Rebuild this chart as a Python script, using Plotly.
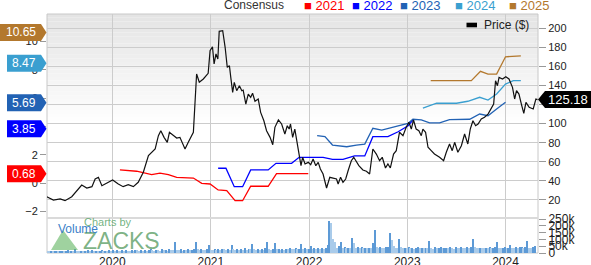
import plotly.graph_objects as go
import pandas as pd

# ---------------- data ----------------
price_dates = ["2019-05-02","2019-05-27","2019-06-21","2019-07-09","2019-08-03","2019-08-22","2019-09-09","2019-09-28","2019-10-17","2019-10-29",
 "2019-11-10","2019-11-23","2019-12-11","2020-01-02","2020-01-23","2020-02-10","2020-02-29","2020-03-19","2020-04-06","2020-04-25",
 "2020-05-14","2020-05-26","2020-06-08","2020-06-20","2020-06-29","2020-07-11","2020-07-23","2020-07-31","2020-08-14","2020-08-27",
 "2020-09-08","2020-09-27","2020-10-09","2020-10-28","2020-11-09","2020-11-19","2020-12-04","2020-12-22","2020-12-29","2021-01-07",
 "2021-01-13","2021-01-20","2021-01-27","2021-02-01","2021-02-14","2021-02-23","2021-03-03","2021-03-11","2021-03-16","2021-03-23",
 "2021-03-29","2021-04-07","2021-04-17","2021-04-26","2021-05-01","2021-05-11","2021-05-20","2021-05-29","2021-06-05","2021-06-14",
 "2021-06-26","2021-07-05","2021-07-17","2021-07-27","2021-08-09","2021-08-19","2021-08-27","2021-09-09","2021-09-21","2021-10-03",
 "2021-10-12","2021-10-19","2021-10-24","2021-11-01","2021-11-09","2021-11-16","2021-11-25","2021-12-02","2021-12-08","2021-12-17",
 "2021-12-29","2022-01-07","2022-01-16","2022-01-26","2022-02-04","2022-02-12","2022-02-22","2022-03-07","2022-03-19","2022-03-31",
 "2022-04-13","2022-04-19","2022-04-28","2022-05-07","2022-05-17","2022-05-26","2022-06-07","2022-06-16","2022-06-23","2022-07-05",
 "2022-07-20","2022-08-02","2022-08-14","2022-08-26","2022-09-08","2022-09-20","2022-09-30","2022-10-12","2022-10-21","2022-10-30",
 "2022-11-11","2022-11-21","2022-12-03","2022-12-16","2022-12-28","2023-01-07","2023-01-16","2023-01-24","2023-02-03","2023-02-13",
 "2023-02-22","2023-02-28","2023-03-10","2023-03-19","2023-03-31","2023-04-12","2023-05-01","2023-05-16","2023-05-26","2023-06-07",
 "2023-06-17","2023-06-26","2023-07-08","2023-07-21","2023-08-02","2023-08-14","2023-08-23","2023-09-02","2023-09-12","2023-09-21",
 "2023-10-03","2023-10-15","2023-10-28","2023-11-09","2023-11-18","2023-11-25","2023-12-02","2023-12-08","2023-12-21","2024-01-02",
 "2024-01-14","2024-01-27","2024-02-04","2024-02-11","2024-02-20","2024-02-29","2024-03-09","2024-03-17","2024-03-29","2024-04-13",
 "2024-04-23","2024-04-29"]
price_values = [23.4,19.9,21,19.2,23.4,29.7,35.6,32.5,33.9,41.9,
 43.7,34.9,37.4,40.9,36.7,33.9,36,33.9,38.5,49,
 66.4,69.9,73.4,87.3,92.6,85.6,80.4,90.9,87.3,84.9,
 85.6,73.4,80.4,90.9,152,143.3,146.8,152.7,176.4,180.6,
 162.5,173,167.7,196.7,197.4,180,159,160.7,148.5,132.8,
 143.3,134.5,139.7,134.5,135.2,120.5,131,127.6,131.8,123.4,
 125.8,111.8,103,92.6,85.6,77.9,96.1,103.8,99.6,89.1,
 97.8,94.3,99.6,85.6,94.3,82.1,68.1,55.9,64.7,57.7,
 59.4,56.9,62.9,55.9,59.4,52.4,47.2,32.5,43.7,43,
 41.9,36.7,43.7,38.5,41.9,50.6,61.1,64.7,61.1,55.9,
 51.4,50,47.2,73.4,68.1,61.1,64.7,53.5,57.7,53.5,
 68.1,71.6,90.9,87.3,96.1,101.4,94.3,103.8,94.3,92.6,
 87.3,94.3,90.9,75.2,71.6,68.1,64.7,61.1,70,78.6,
 71.6,80.4,70,76.8,89.1,78.6,94.3,103,97.8,99.6,
 104.8,106.6,110,115.3,120.5,145,139.7,148.5,146.8,149.2,
 146.8,138,125.8,134.5,131,120.5,110.8,122.3,117.1,115.3,
 125.8,125.18]
assert len(price_dates) == len(price_values), (len(price_dates), len(price_values))

eps_2021_dates = ["2020-01-29","2020-03-31","2020-05-26","2020-06-26","2020-07-27","2020-08-27","2020-10-28","2020-11-28","2020-12-29",
 "2021-01-28","2021-03-01","2021-04-01","2021-04-29","2021-05-29","2021-08-02","2021-09-02","2021-12-29"]
eps_2021 = [0.94,0.85,0.61,0.71,0.61,0.42,0.37,0.0,-0.05,-0.47,-0.52,-1.23,-1.23,-0.21,-0.21,0.68,0.68]

eps_2022_dates = ["2021-01-28","2021-02-26","2021-03-29","2021-04-29","2021-05-29","2021-08-02","2021-08-31","2021-10-28","2021-11-25",
 "2022-02-22","2022-03-29","2022-05-07","2022-06-19","2022-07-27","2022-08-26","2022-10-21","2022-11-28","2023-01-04","2023-01-22"]
eps_2022 = [1.06,1.06,-0.24,-0.24,0.94,0.94,1.41,1.41,1.83,1.83,1.69,1.69,1.93,1.93,3.29,3.29,3.64,4.06,4.47]

eps_2023_dates = ["2022-01-31","2022-03-01","2022-03-29","2022-05-21","2022-06-26","2022-07-27","2022-08-26","2022-09-28","2022-11-28",
 "2023-01-04","2023-01-22","2023-02-22","2023-03-25","2023-05-01","2023-06-07","2023-08-21","2023-09-27","2023-10-28","2023-11-29","2024-01-01"]
eps_2023 = [3.36,3.29,2.7,2.58,2.7,2.77,3.88,3.76,4.06,4.23,4.52,4.47,4.26,4.26,4.49,4.52,4.89,4.77,5.24,5.72]

eps_2024_dates = ["2023-02-28","2023-04-20","2023-07-03","2023-08-14","2023-09-27","2023-10-28","2023-11-29","2024-01-01","2024-01-30","2024-02-27"]
eps_2024 = [5.31,5.65,5.65,5.79,6.07,5.87,6.30,7.0,7.24,7.24]

eps_2025_dates = ["2023-03-29","2023-08-27","2023-09-30","2023-10-28","2023-11-29","2024-01-01","2024-02-27"]
eps_2025 = [7.24,7.24,7.90,7.71,7.71,8.93,9.0]

consensus_years = ["2021", "2022", "2023", "2024", "2025"]
consensus_latest = [0.68, 3.85, 5.69, 8.47, 10.65]
last_price = 125.18

volume_start = "2019-05-03"
volume_k = [14,12,16,13,15,18,12,14,17,13,
 15,20,14,16,13,26,15,12,18,14,
 16,13,19,15,22,14,17,13,16,20,
 15,18,14,21,16,19,14,22,17,15,
 20,16,24,18,15,21,17,23,19,16,
 22,18,25,17,20,28,19,16,24,21,
 18,26,20,23,17,29,22,19,81,24,
 20,27,18,25,22,30,19,24,28,82,
 26,21,33,24,20,28,61,25,22,30,
 24,27,21,32,26,23,29,25,61,28,
 22,30,25,27,21,34,24,28,26,66,
 27,23,31,25,29,22,35,81,28,24,
 30,74,26,33,25,29,23,31,27,36,
 30,26,34,28,32,66,29,35,27,33,
 51,30,36,29,38,32,35,28,40,59,
 238,223,103,83,38,51,78,36,42,34,
 40,37,113,71,35,42,38,45,36,40,
 34,39,37,71,169,41,36,43,38,35,
 42,47,147,96,54,40,37,103,44,36,
 39,34,41,36,38,33,37,42,35,40,
 36,38,34,88,39,33,41,35,37,43,
 34,38,40,36,45,39,33,42,37,35,
 41,38,36,44,39,42,103,47,38,35,
 40,37,34,39,36,41,35,38,43,78,
 39,34,37,42,36,40,59,38,35,44,
 37,41,46,39,43,91,40,38,44,51]

year_ticks = ["2020-01-01", "2021-01-01", "2022-01-01", "2023-01-01", "2024-01-01"]
year_labels = ["2020", "2021", "2022", "2023", "2024"]
price_ticks = [20, 40, 60, 80, 100, 120, 140, 160, 180, 200]
eps_ticks = [-2, 0, 2, 4, 6, 8, 10]
vol_ticks = [0, 50, 100, 150, 200, 250]
vol_labels = ["0", "50k", "100k", "150k", "200k", "250k"]

# ---------------- styling ----------------
colors = {"2021": "#ff0000", "2022": "#0000ff", "2023": "#2262b4", "2024": "#3a9fd0", "2025": "#b3782d"}
FONT = "Liberation Sans, Arial, sans-serif"
W, H = 591, 265
ML, MR, MT, MB = 47, 53, 14, 12
PW, PH = W - ML - MR, H - MT - MB

def px(xp):
    return (xp - ML) / PW

def py(yp):
    return (H - MB - yp) / PH

price_dom = [py(217), 1]
vol_dom = [0, py(219)]

fig = go.Figure()

vol_dates = pd.date_range(volume_start, periods=len(volume_k), freq="7D")
vol_colors = ["#5d9ad6" if i > 0 and v > volume_k[i - 1] else "#a9cbea" for i, v in enumerate(volume_k)]
fig.add_trace(go.Bar(x=vol_dates, y=volume_k, yaxis="y3", marker=dict(color=vol_colors, line=dict(width=0)),
                     width=4 * 86400000, showlegend=False, hoverinfo="skip"))

for yr, d, v in [("2021", eps_2021_dates, eps_2021), ("2022", eps_2022_dates, eps_2022),
                 ("2023", eps_2023_dates, eps_2023), ("2024", eps_2024_dates, eps_2024),
                 ("2025", eps_2025_dates, eps_2025)]:
    fig.add_trace(go.Scatter(x=d, y=v, yaxis="y", mode="lines",
                             line=dict(color=colors[yr], width=1.3), showlegend=False, hoverinfo="skip"))

fig.add_trace(go.Scatter(x=price_dates, y=price_values, yaxis="y2", mode="lines",
                         line=dict(color="#111111", width=1.2), showlegend=False, hoverinfo="skip"))

shapes = []
# gradient background of price panel
nb = 30
g_lo = py(125)
for i in range(nb):
    y0 = g_lo + (1 - g_lo) * i / nb
    y1 = g_lo + (1 - g_lo) * (i + 1) / nb
    c = int(round(255 - (255 - 228) * (i + 0.5) / nb))
    shapes.append(dict(type="rect", xref="paper", yref="paper", x0=0, x1=1, y0=y0, y1=y1,
                       fillcolor=f"rgb({c},{c},{c})", line=dict(width=0), layer="below"))
# separator band
shapes.append(dict(type="rect", xref="paper", yref="paper", x0=0, x1=1, y0=py(219), y1=py(217),
                   fillcolor="#dadada", line=dict(width=0), layer="above"))
# border
shapes.append(dict(type="rect", xref="paper", yref="paper", x0=0, x1=1, y0=0, y1=1,
                   line=dict(color="#c8c8c8", width=1), layer="below"))

# left consensus badges
annotations = []
for yr, val in zip(consensus_years, consensus_latest):
    wide = len(f"{val:.2f}") > 4
    left = -47 if wide else -40
    shapes.append(dict(type="path", xref="paper", yref="y", xsizemode="pixel", ysizemode="pixel",
                       xanchor=0, yanchor=val,
                       path=f"M {left},-8.5 L -6,-8.5 L -0.5,0 L -6,8.5 L {left},8.5 Z",
                       fillcolor=colors[yr], line=dict(width=0), layer="above"))
    annotations.append(dict(x=0, y=val, xref="paper", yref="y", xanchor="center", yanchor="middle",
                            xshift=(left - 6) / 2, text=f"{val:.2f}", showarrow=False,
                            font=dict(family=FONT, size=12, color="white")))

# right price badge
shapes.append(dict(type="path", xref="paper", yref="y2", xsizemode="pixel", ysizemode="pixel",
                   xanchor=1, yanchor=last_price,
                   path="M 0,0 L 7,8.5 L 53,8.5 L 53,-8.5 L 7,-8.5 Z",
                   fillcolor="#000000", line=dict(width=0), layer="above"))
annotations.append(dict(x=1, y=last_price, xref="paper", yref="y2", xanchor="center", yanchor="middle",
                        xshift=30, text=f"{last_price:.2f}", showarrow=False,
                        font=dict(family=FONT, size=13, color="white")))

# top legend
annotations.append(dict(x=px(254), y=py(5.5), xref="paper", yref="paper", xanchor="center", yanchor="middle",
                        text="Consensus", showarrow=False, font=dict(family=FONT, size=12, color="#333333")))
for yr, xl in zip(consensus_years, [302, 350, 398, 452.5, 506.5]):
    annotations.append(dict(x=px(xl), y=py(5.5), xref="paper", yref="paper", xanchor="left", yanchor="middle",
                            text=f"■ {yr}", showarrow=False, font=dict(family=FONT, size=13, color=colors[yr])))

# price legend
shapes.append(dict(type="rect", xref="paper", yref="paper", x0=px(466.5), x1=px(477), y0=py(27.3), y1=py(22.7),
                   fillcolor="#000000", line=dict(width=0), layer="above"))
annotations.append(dict(x=px(481.5), y=py(25), xref="paper", yref="paper", xanchor="left", yanchor="middle",
                        text="Price ($)", showarrow=False, font=dict(family=FONT, size=12, color="#222222")))

# watermark
shapes.append(dict(type="path", xref="paper", yref="paper", xsizemode="pixel", ysizemode="pixel",
                   xanchor=0, yanchor=0, path="M 4,3 L 16,23 L 31,3 Z",
                   fillcolor="rgba(95,180,95,0.6)", line=dict(width=0), layer="above"))
annotations.append(dict(x=px(82), y=py(222), xref="paper", yref="paper", xanchor="left", yanchor="middle",
                        text="Charts by", showarrow=False, font=dict(family=FONT, size=11, color="rgba(80,160,95,0.8)")))
annotations.append(dict(x=px(81), y=py(241), xref="paper", yref="paper", xanchor="left", yanchor="middle",
                        text="ZACKS", showarrow=False, font=dict(family=FONT, size=23, color="rgba(70,145,80,0.7)")))
annotations.append(dict(x=px(55.5), y=py(229), xref="paper", yref="paper", xanchor="left", yanchor="middle",
                        text="Volume", showarrow=False, font=dict(family=FONT, size=12, color="#3a80c8")))

tickfont = dict(family=FONT, size=11, color="#222222")
fig.update_layout(
    width=W, height=H, margin=dict(l=ML, r=MR, t=MT, b=MB, autoexpand=False),
    paper_bgcolor="white", plot_bgcolor="rgba(0,0,0,0)",
    showlegend=False, bargap=0,
    xaxis=dict(type="date", range=["2019-05-03", "2024-04-30 19:00"], anchor="y3", automargin=False,
               tickvals=year_ticks, ticktext=year_labels, ticks="", showgrid=True, gridcolor="#cccccc",
               gridwidth=1, zeroline=False, showline=False, tickfont=dict(family=FONT, size=12, color="#222222")),
    yaxis=dict(domain=price_dom, range=[-2.38, 11.95], side="left", tickvals=eps_ticks, automargin=False,
               ticks="outside", ticklen=6, tickcolor="#999999", showgrid=False, zeroline=False,
               showline=False, tickfont=tickfont),
    yaxis2=dict(overlaying="y", side="right", range=[2.1, 214.9], tickvals=price_ticks, automargin=False,
                ticks="outside", ticklen=7, tickcolor="#999999", showgrid=True, gridcolor="#cccccc",
                zeroline=False, showline=False, tickfont=tickfont, anchor="x"),
    yaxis3=dict(domain=vol_dom, range=[0, 250], side="right", anchor="x", tickvals=vol_ticks, automargin=False,
                ticktext=vol_labels, ticks="outside", ticklen=7, tickcolor="#999999", showgrid=False,
                zeroline=False, showline=False, tickfont=dict(family=FONT, size=12, color="#222222")),
    shapes=shapes, annotations=annotations,
)

fig.write_html("out.html")
